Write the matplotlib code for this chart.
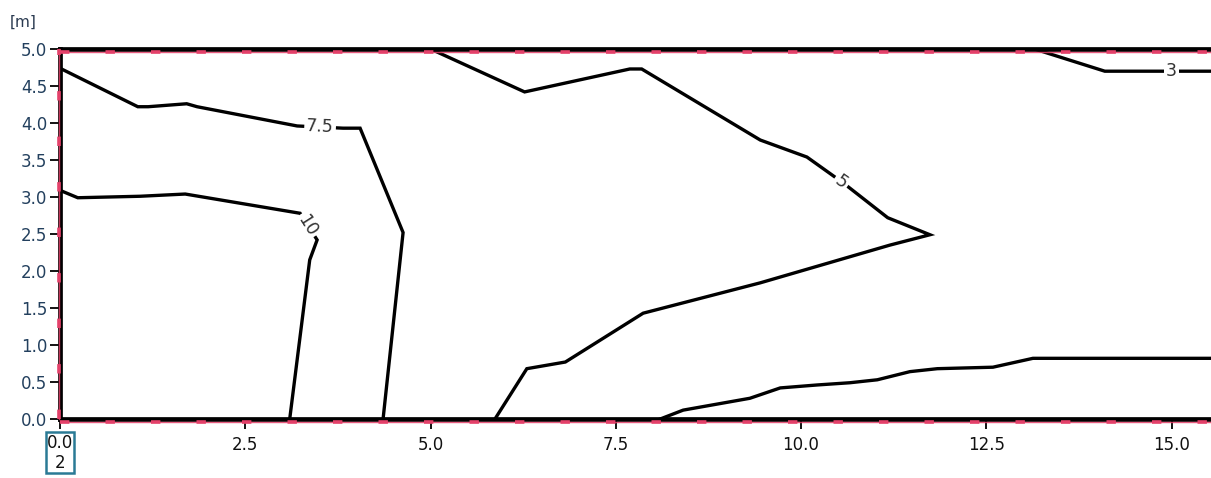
import numpy as np
import matplotlib
matplotlib.use('Agg')
import matplotlib.pyplot as plt
from matplotlib.transforms import ScaledTranslation

plt.rcParams['font.family'] = ['DejaVu Sans']

# contour polylines (x [m], y [m])
levels = ['10', '7.5', '5', '3', '']
c10_x = [0.0, 0.24, 1.08, 1.69, 3.24, 3.47, 3.37, 3.10]
c10_y = [3.09, 2.99, 3.01, 3.04, 2.78, 2.42, 2.15, 0.0]
c75_x = [0.0, 1.05, 1.19, 1.71, 1.85, 3.20, 3.82, 4.05, 4.63, 4.36]
c75_y = [4.74, 4.22, 4.22, 4.26, 4.22, 3.96, 3.93, 3.93, 2.52, 0.0]
c5_x = [5.0, 6.27, 7.69, 7.85, 9.45, 10.08, 10.57, 11.17, 11.74,
        11.20, 9.45, 7.87, 6.82, 6.30, 5.87]
c5_y = [5.0, 4.42, 4.73, 4.73, 3.77, 3.54, 3.19, 2.72, 2.49,
        2.35, 1.84, 1.43, 0.77, 0.68, 0.0]
c3_x = [13.15, 14.10, 15.6]
c3_y = [5.0, 4.70, 4.70]
c2_x = [8.10, 8.41, 9.31, 9.72, 10.22, 10.66, 11.03, 11.47, 11.84, 12.59, 13.13, 15.6]
c2_y = [0.0, 0.12, 0.28, 0.42, 0.46, 0.49, 0.53, 0.64, 0.68, 0.70, 0.82, 0.82]

x_ticks = [0.0, 2.5, 5.0, 7.5, 10.0, 12.5, 15.0]
y_ticks = [0.0, 0.5, 1.0, 1.5, 2.0, 2.5, 3.0, 3.5, 4.0, 4.5, 5.0]

W, H = 1211, 478
fig = plt.figure(figsize=(W / 100, H / 100), dpi=100)
x0 = 60 / W
ax = fig.add_axes([x0, 59 / H, 1.0 - x0, 370 / H])
ax.set_xlim(0, (W - 60) / 74.1)
ax.set_ylim(0, 5.0)

lines = [(c10_x, c10_y), (c75_x, c75_y), (c5_x, c5_y), (c3_x, c3_y), (c2_x, c2_y)]
for xs, ys in lines:
    ax.plot(xs, ys, color='black', lw=2.4, solid_joinstyle='miter', zorder=3)


def label_on(xs, ys, i, t, text):
    # put a contour label part way along segment i, rotated with it
    xa, ya = xs[i], ys[i]
    xb, yb = xs[i + 1], ys[i + 1]
    px = xa + t * (xb - xa)
    py = ya + t * (yb - ya)
    pa = ax.transData.transform((xa, ya))
    pb = ax.transData.transform((xb, yb))
    ang = np.degrees(np.arctan2(pb[1] - pa[1], pb[0] - pa[0]))
    if ang > 90:
        ang -= 180
    if ang < -90:
        ang += 180
    ax.text(px, py, text, rotation=ang, rotation_mode='anchor',
            ha='center', va='center', fontsize=12.5, color='#333333', zorder=5,
            bbox=dict(boxstyle='square,pad=0.12', fc='white', ec='none'))


label_on(c75_x, c75_y, 5, 0.5, levels[1])
label_on(c10_x, c10_y, 4, 0.45, levels[0])
label_on(c5_x, c5_y, 5, 0.95, levels[2])
label_on(c3_x, c3_y, 1, 0.6, levels[3])

# frame: thick black boundary with a red dashed line along it
for s in ['top', 'bottom', 'left']:
    ax.spines[s].set_linewidth(3.4)
    ax.spines[s].set_color('black')
    ax.spines[s].set_zorder(4)
ax.spines['right'].set_visible(False)
xmax = ax.get_xlim()[1]
red = '#e4416a'
edges = [([0, xmax], [5.0, 5.0], (0, -2.0)),
         ([0, xmax], [0.0, 0.0], (0, -2.0)),
         ([0, 0], [0, 5.0], (-1.0, 0))]
for xs, ys, (dx, dy) in edges:
    tr = ax.transData + ScaledTranslation(dx / 72, dy / 72, fig.dpi_scale_trans)
    ax.plot(xs, ys, color=red, lw=1.0, alpha=0.85, transform=tr, clip_on=False, zorder=6)
    ax.plot(xs, ys, color=red, lw=2.6, dashes=(2.6, 10), transform=tr, clip_on=False, zorder=6)

ax.set_xticks(x_ticks)
ax.set_xticklabels(['' if v == 0 else f'{v:.1f}' for v in x_ticks])
ax.set_yticks(y_ticks)
ax.set_yticklabels([f'{v:.1f}' for v in y_ticks])
ax.tick_params(axis='both', direction='out', length=7, width=1.3, color='black',
               labelsize=12)
ax.tick_params(axis='x', pad=5, labelcolor='#111111')
ax.tick_params(axis='y', pad=2, labelcolor='#23405e')

# odd boxed first tick label
ax.text(0.0, -0.2, '0.0\n2', transform=ax.transData, ha='center', va='top',
        fontsize=12, linespacing=1.15, color='#111111', clip_on=False,
        bbox=dict(boxstyle='square,pad=0.08', fc='white', ec='#2a7a95', lw=1.8))

fig.text(10 / W, 1 - 22 / H, '[m]', ha='left', va='center', fontsize=11,
         color='#2a3a50')

fig.savefig('out.png', dpi=100)
